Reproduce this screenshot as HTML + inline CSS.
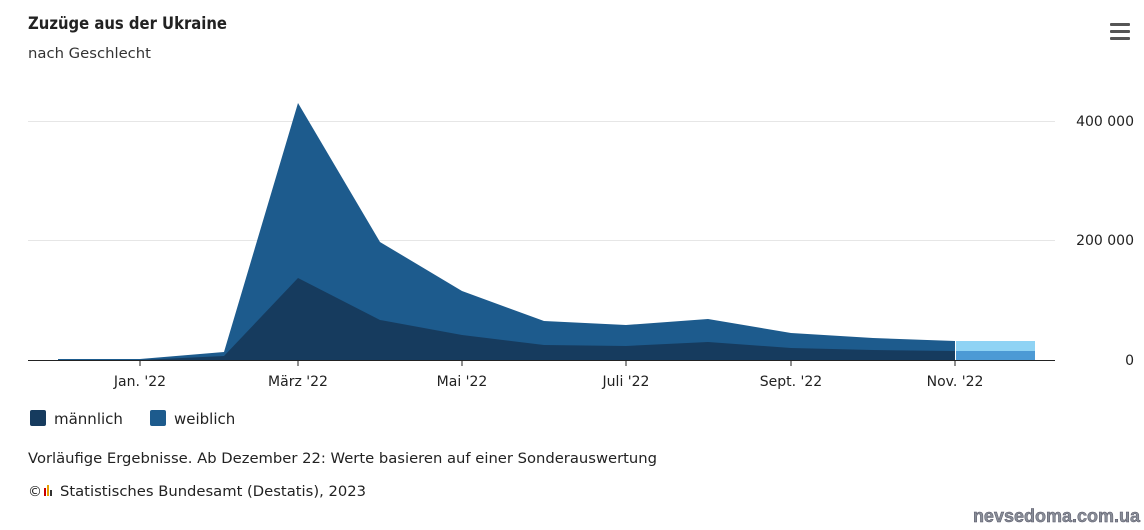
<!DOCTYPE html>
<html><head><meta charset="utf-8"><style>
body{margin:0;background:#fff;font-family:"Liberation Sans","DejaVu Sans",sans-serif;}
</style></head><body>
<svg width="1144" height="525" xmlns="http://www.w3.org/2000/svg" font-family="DejaVu Sans, Liberation Sans, sans-serif">
<rect width="1144" height="525" fill="#fff"/>
<text x="28" y="29" font-size="17" font-weight="bold" fill="#222" textLength="199" lengthAdjust="spacingAndGlyphs">Zuzüge aus der Ukraine</text>
<text x="28" y="58" font-size="14.5" fill="#333" textLength="123" lengthAdjust="spacingAndGlyphs">nach Geschlecht</text>
<g fill="#555"><rect x="1110" y="23" width="20" height="3" rx="1"/><rect x="1110" y="30" width="20" height="3" rx="1"/><rect x="1110" y="37" width="20" height="3" rx="1"/></g>
<line x1="28" y1="121.5" x2="1055" y2="121.5" stroke="#e6e6e6"/>
<line x1="28" y1="240.5" x2="1055" y2="240.5" stroke="#e6e6e6"/>
<g font-size="14" fill="#222" text-anchor="end">
<text x="1134" y="126">400 000</text><text x="1134" y="245">200 000</text><text x="1134" y="365">0</text></g>
<polygon fill="#1d5b8d" points="58,359 140,359 224,352 298,103 380,242 462,291 544,321 626,325 708,319 791,333 873,338 955,341 955,360 58,360"/>
<polygon fill="#163b5e" points="58,360 140,360 224,356 298,278 380,320 462,335 544,345 626,346 708,342 791,348 873,350 955,351 955,360"/>
<rect x="956" y="341" width="79" height="10" fill="#8fd3f4"/>
<rect x="956" y="351" width="79" height="9" fill="#4c9ad5"/>
<line x1="28" y1="360.5" x2="1055" y2="360.5" stroke="#222"/>
<g stroke="#222"><line x1="140" y1="360" x2="140" y2="366"/><line x1="298" y1="360" x2="298" y2="366"/><line x1="462" y1="360" x2="462" y2="366"/><line x1="626" y1="360" x2="626" y2="366"/><line x1="791" y1="360" x2="791" y2="366"/><line x1="955" y1="360" x2="955" y2="366"/></g>
<g font-size="14" fill="#222" text-anchor="middle">
<text x="140" y="386">Jan. '22</text><text x="298" y="386">März '22</text><text x="462" y="386">Mai '22</text><text x="626" y="386">Juli '22</text><text x="791" y="386">Sept. '22</text><text x="955" y="386">Nov. '22</text></g>
<rect x="30" y="410" width="16" height="16" rx="2" fill="#163b5e"/>
<text x="54" y="424" font-size="15" fill="#222">männlich</text>
<rect x="150" y="410" width="16" height="16" rx="2" fill="#1d5b8d"/>
<text x="174" y="424" font-size="15" fill="#222">weiblich</text>
<text x="28" y="463" font-size="14.5" fill="#222" textLength="629" lengthAdjust="spacingAndGlyphs">Vorläufige Ergebnisse. Ab Dezember 22: Werte basieren auf einer Sonderauswertung</text>
<text x="28" y="496" font-size="14" fill="#222">©</text>
<rect x="44" y="488" width="2" height="8" fill="#c00"/><rect x="47" y="485" width="2" height="11" fill="#e8a000"/><rect x="50" y="490" width="2" height="6" fill="#333"/>
<text x="60" y="496" font-size="14.5" fill="#222" textLength="306" lengthAdjust="spacingAndGlyphs">Statistisches Bundesamt (Destatis), 2023</text>
<text x="1140" y="522" font-size="18" font-weight="bold" fill="#8a8f99" stroke="#556" stroke-width="0.5" text-anchor="end" font-family="Liberation Sans Narrow, Liberation Sans, sans-serif">nevsedoma.com.ua</text>
</svg>
</body></html>
